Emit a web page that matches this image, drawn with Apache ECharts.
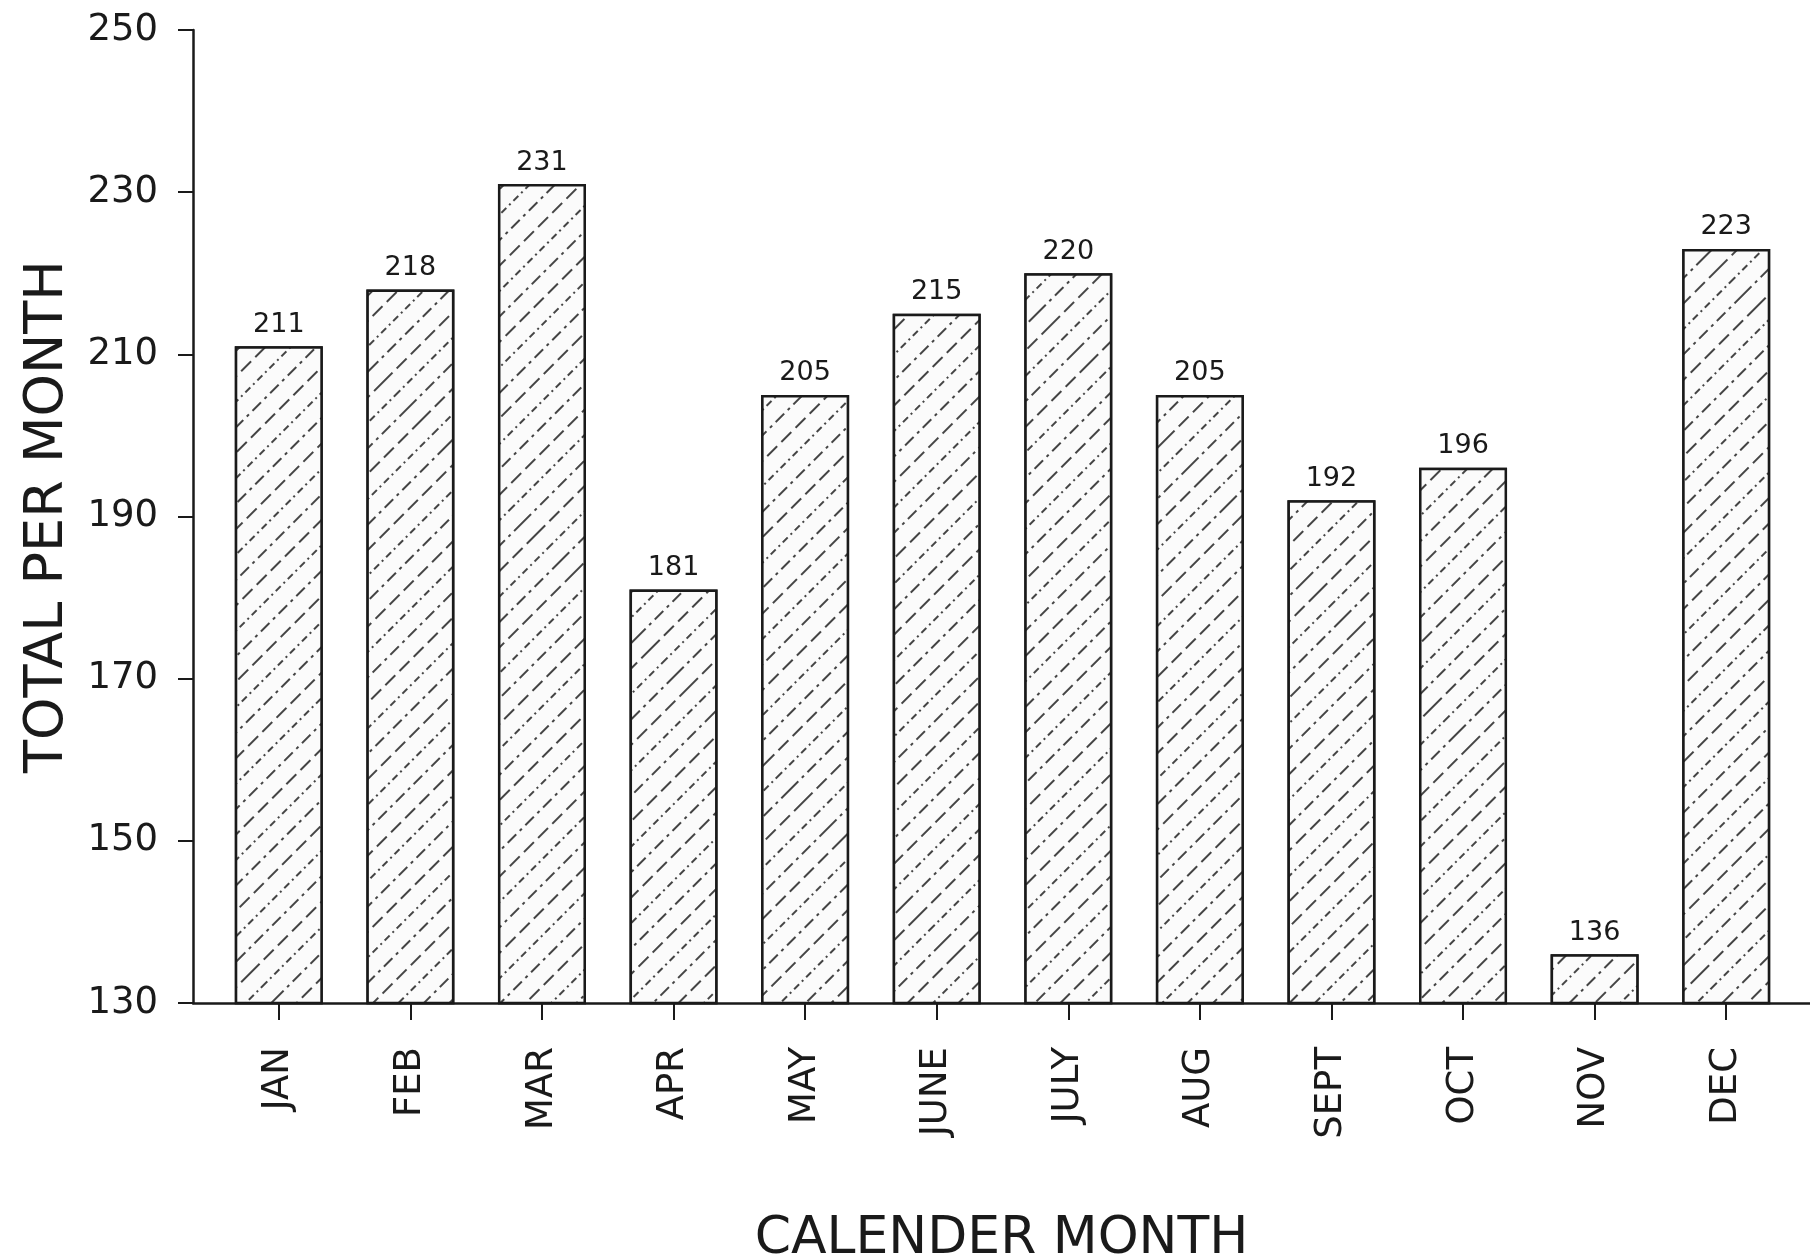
<!DOCTYPE html>
<html>
<head>
<meta charset="utf-8">
<script src="https://cdn.jsdelivr.net/npm/echarts@6/dist/echarts.min.js"></script>
<style>
	html, body { margin: 0; padding: 0; background: #fff; }
	#chart { width: 1810px; height: 1258px; }
</style>
</head>
<body>
<div id="chart"></div>
<script>
// 月份 / 数值
const months = ["JAN", "FEB", "MAR", "APR", "MAY", "JUNE", "JULY", "AUG", "SEPT", "OCT", "NOV", "DEC"];
const totals = [211, 218, 231, 181, 205, 215, 220, 205, 192, 196, 136, 223];
const yMin = 130;
const yMax = 250;
const yStep = 20;

const font = "'DejaVu Sans', 'Liberation Sans', sans-serif";
const ink = "#1a1a1a";

const myChart = echarts.init(document.getElementById("chart"));
const option = {
	backgroundColor: "#fff",
	animation: false,
	grid: [
		// bars
		{ left: 213, right: 18, top: 30, bottom: 255, outerBoundsMode: "none" },
		// axis frame (y axis + long baseline)
		{ left: 193, right: 0, top: 30, bottom: 255, outerBoundsMode: "none" }
	],
	xAxis: [
		{
			type: "category",
			gridIndex: 0,
			data: months,
			axisLine: { show: false },
			axisTick: {
				show: true,
				alignWithLabel: true,
				length: 17,
				lineStyle: { color: ink, width: 2 }
			},
			axisLabel: {
				rotate: 90,
				margin: 44,
				interval: 0,
				color: ink,
				fontSize: 37,
				fontFamily: font
			}
		},
		{
			type: "value",
			gridIndex: 1,
			min: 0,
			max: 1,
			axisLine: { show: true, lineStyle: { color: ink, width: 2.5 } },
			axisTick: { show: false },
			axisLabel: { show: false },
			splitLine: { show: false },
			name: "CALENDER MONTH",
			nameLocation: "middle",
			nameGap: 210,
			nameTextStyle: { color: ink, fontSize: 52, fontFamily: font }
		}
	],
	yAxis: [
		{
			type: "value",
			gridIndex: 0,
			min: yMin,
			max: yMax,
			interval: yStep,
			show: false
		},
		{
			type: "value",
			gridIndex: 1,
			min: yMin,
			max: yMax,
			interval: yStep,
			axisLine: { show: true, lineStyle: { color: ink, width: 2.5 } },
			axisTick: { show: true, length: 15, lineStyle: { color: ink, width: 2 } },
			splitLine: { show: false },
			axisLabel: {
				margin: 35,
				color: ink,
				fontSize: 37,
				fontFamily: font
			},
			name: "TOTAL PER MONTH",
			nameLocation: "middle",
			nameRotate: 90,
			nameGap: 118,
			nameTextStyle: { color: ink, fontSize: 54, fontFamily: font }
		}
	],
	series: [
		{
			type: "bar",
			xAxisIndex: 0,
			yAxisIndex: 0,
			data: totals,
			barWidth: 88,
			itemStyle: {
				color: "#fafafa",
				borderColor: ink,
				borderWidth: 2.5,
				decal: {
					symbol: "rect",
					symbolSize: 1,
					color: "#444",
					backgroundColor: "#fbfbfb",
					dashArrayX: [[12, 5, 3, 5], [14, 6], [7, 4, 2, 4]],
					dashArrayY: [2, 16],
					rotation: -Math.PI / 4
				}
			},
			label: {
				show: true,
				position: "top",
				distance: 8,
				color: ink,
				fontSize: 27,
				fontFamily: font
			}
		}
	]
};
myChart.setOption(option);
</script>
</body>
</html>
